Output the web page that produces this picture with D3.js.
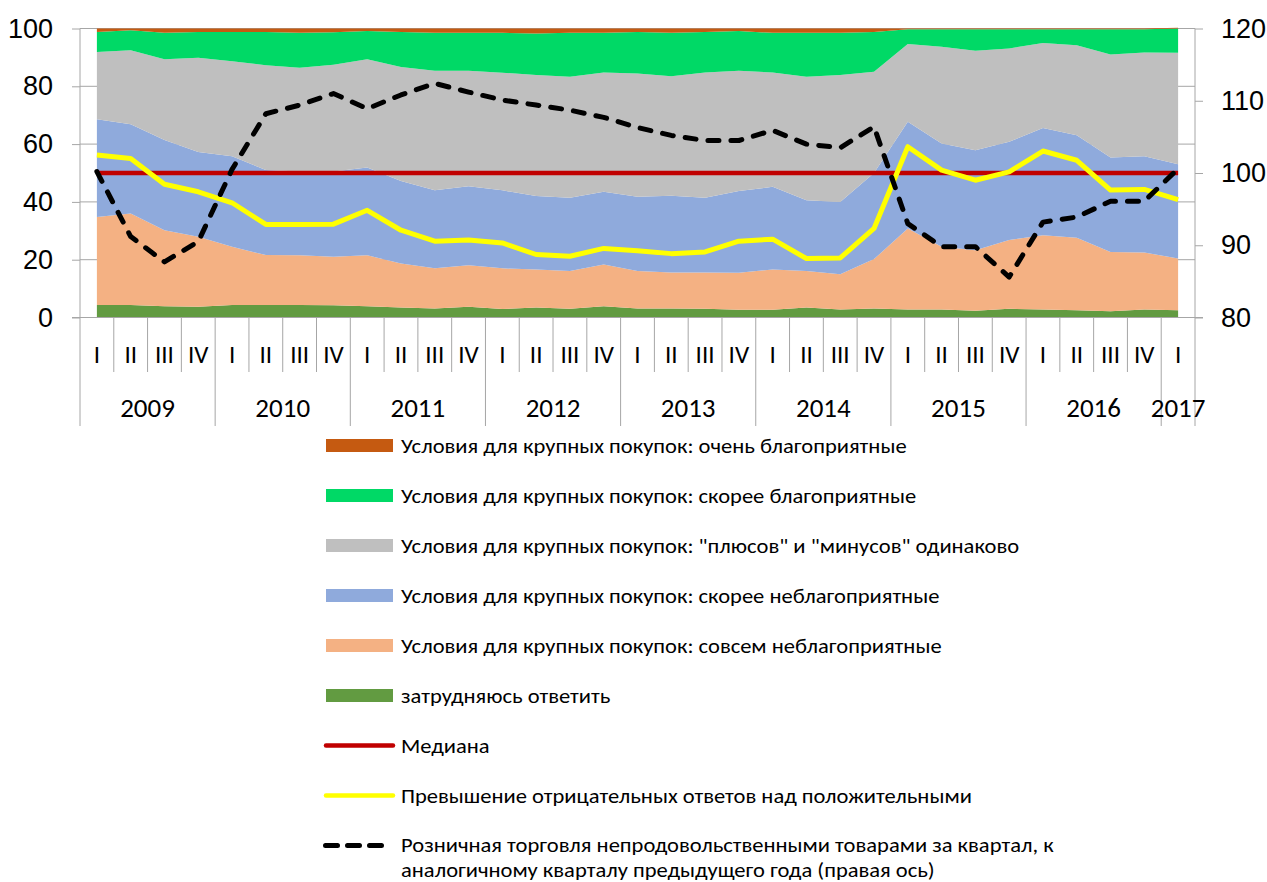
<!DOCTYPE html>
<html>
<head>
<meta charset="utf-8">
<script src="https://cdn.jsdelivr.net/npm/d3@7"></script>
<style>
  body { margin: 0; background: #fff; }
  svg { display: block; font-family: Carlito, Lato, "Open Sans", sans-serif; }
</style>
</head>
<body>
<svg id="chart" width="1267" height="882"></svg>
<script>
// quarters 2009 I .. 2017 I
const years = ["2009", "2010", "2011", "2012", "2013", "2014", "2015", "2016", "2017"];
const quarters = ["I", "II", "III", "IV"];

// survey shares, % (bottom to top of the stack)
const hardToSay   = [4.3, 4.3, 3.9, 3.7, 4.3, 4.3, 4.3, 4.2, 3.9, 3.5, 3.1, 3.7, 2.9, 3.5, 3.0, 3.9, 3.1, 3.1, 3.0, 2.7, 2.7, 3.5, 2.8, 3.1, 2.8, 2.8, 2.3, 3.0, 2.8, 2.5, 2.2, 2.8, 2.5];
const veryUnfav   = [30.5, 31.7, 26.3, 24.2, 20.2, 17.3, 17.2, 16.8, 17.6, 15.2, 13.9, 14.4, 14.1, 13.1, 13.1, 14.4, 13.0, 12.5, 12.6, 12.8, 13.9, 12.6, 12.2, 17.1, 28.0, 21.7, 21.0, 23.8, 25.7, 25.1, 20.5, 19.7, 17.9];
const ratherUnfav = [33.8, 30.9, 31.2, 29.4, 31.3, 29.4, 29.0, 29.5, 30.4, 28.5, 27.0, 27.3, 27.0, 25.4, 25.3, 25.2, 25.7, 26.5, 25.8, 28.3, 28.6, 24.5, 25.0, 29.8, 36.9, 35.7, 34.6, 34.0, 37.1, 35.5, 32.7, 33.3, 32.6];
const equalShare  = [23.3, 25.6, 28.0, 32.6, 32.9, 36.3, 35.9, 37.0, 37.5, 39.5, 41.4, 40.0, 40.7, 41.9, 41.9, 41.3, 42.6, 41.4, 43.4, 41.6, 39.6, 42.7, 43.9, 35.0, 26.9, 33.5, 34.4, 32.3, 29.4, 31.1, 35.6, 35.9, 38.6];
const ratherFav   = [6.9, 6.9, 9.1, 8.9, 10.1, 11.5, 12.1, 11.2, 9.7, 12.1, 13.1, 13.1, 13.8, 14.4, 15.2, 13.7, 14.4, 15.0, 14.0, 13.7, 13.7, 15.2, 14.6, 13.8, 5.1, 6.0, 7.4, 6.6, 4.7, 5.5, 8.7, 8.0, 8.4];
const veryFav     = [1.2, 0.6, 1.5, 1.2, 1.2, 1.2, 1.5, 1.3, 0.9, 1.2, 1.5, 1.5, 1.5, 1.7, 1.5, 1.5, 1.2, 1.5, 1.2, 0.9, 1.5, 1.5, 1.5, 1.2, 0.3, 0.3, 0.3, 0.3, 0.3, 0.3, 0.3, 0.3, 0.3];

// lines
const median  = [50, 50, 50, 50, 50, 50, 50, 50, 50, 50, 50, 50, 50, 50, 50, 50, 50, 50, 50, 50, 50, 50, 50, 50, 50, 50, 50, 50, 50, 50, 50, 50, 50];
const balance = [56.2, 55.0, 46.1, 43.5, 39.7, 32.2, 32.2, 32.3, 37.1, 30.2, 26.4, 26.8, 25.8, 21.8, 21.2, 23.9, 23.1, 22.1, 22.7, 26.4, 27.1, 20.4, 20.6, 30.8, 59.1, 51.0, 47.5, 50.4, 57.6, 54.4, 44.1, 44.3, 40.8];
const retail  = [100.2, 91.2, 87.7, 90.5, 100.5, 108.2, 109.4, 111.0, 108.9, 110.8, 112.4, 111.2, 110.1, 109.4, 108.7, 107.7, 106.3, 105.2, 104.5, 104.5, 105.9, 104.0, 103.5, 106.4, 93.0, 89.8, 89.8, 85.6, 93.2, 93.9, 96.1, 96.1, 100.6];

const leftTicks = [0, 20, 40, 60, 80, 100];
const rightTicks = [80, 90, 100, 110, 120];

const areaSeries = [
  { key: "hard",  label: "затрудняюсь ответить", values: hardToSay, color: "#629B41" },
  { key: "vunf",  label: "Условия для крупных покупок: совсем неблагоприятные", values: veryUnfav, color: "#F4B183" },
  { key: "runf",  label: "Условия для крупных покупок: скорее неблагоприятные", values: ratherUnfav, color: "#8FAADC" },
  { key: "eq",    label: "Условия для крупных покупок: \"плюсов\" и \"минусов\" одинаково", values: equalShare, color: "#BFBFBF" },
  { key: "rfav",  label: "Условия для крупных покупок: скорее благоприятные", values: ratherFav, color: "#00D966" },
  { key: "vfav",  label: "Условия для крупных покупок: очень благоприятные", values: veryFav, color: "#C55A11" }
];

const svg = d3.select("#chart");
const L = 80, R = 1195, T = 28.5, B = 317.5;
const AXIS = "#A6A6A6";

// category labels
const cats = [];
years.forEach(yr => {
  const qs = yr === "2017" ? ["I"] : quarters;
  qs.forEach(q => cats.push({ year: yr, q: q }));
});

const x = d3.scaleBand().domain(d3.range(cats.length)).range([L, R]);
const cx = i => x(i) + x.bandwidth() / 2;
const yL = d3.scaleLinear().domain([0, 100]).range([B, T]);
const yR = d3.scaleLinear().domain([80, 120]).range([B, T]);

// gridlines (behind areas)
svg.append("g").selectAll("line").data(leftTicks.filter(d => d > 0)).join("line")
  .attr("x1", L).attr("x2", R)
  .attr("y1", d => yL(d)).attr("y2", d => yL(d))
  .attr("stroke", AXIS).attr("stroke-width", 1);

// stacked areas
const table = cats.map((c, i) => {
  const row = { i: i };
  areaSeries.forEach(s => row[s.key] = s.values[i]);
  return row;
});
const stack = d3.stack().keys(areaSeries.map(s => s.key));
const layers = stack(table);
const area = d3.area()
  .x(d => cx(d.data.i))
  .y0(d => yL(d[0]))
  .y1(d => yL(d[1]));

svg.append("g").selectAll("path").data(layers).join("path")
  .attr("d", area)
  .attr("fill", (d, i) => areaSeries[i].color);

// left axis
const axL = svg.append("g").attr("transform", `translate(${L},0)`)
  .call(d3.axisLeft(yL).tickValues(leftTicks).tickSize(8).tickPadding(19).tickSizeOuter(0));
axL.select(".domain").remove();
axL.selectAll(".tick line").attr("stroke", AXIS);
axL.selectAll("text").attr("font-size", 27).attr("fill", "#000").attr("font-family", null);
svg.append("line").attr("x1", L).attr("x2", L).attr("y1", T).attr("y2", 426).attr("stroke", AXIS);

// right axis
const axR = svg.append("g").attr("transform", `translate(${R},0)`)
  .call(d3.axisRight(yR).tickValues(rightTicks).tickSize(8).tickPadding(18).tickSizeOuter(0));
axR.select(".domain").remove();
axR.selectAll(".tick line").attr("stroke", AXIS);
axR.selectAll("text").attr("font-size", 27).attr("fill", "#000").attr("font-family", null);
svg.append("line").attr("x1", R).attr("x2", R).attr("y1", T).attr("y2", 426).attr("stroke", AXIS);

// category axis: baseline, quarter and year separators
svg.append("line").attr("x1", L - 8).attr("x2", R + 8).attr("y1", B).attr("y2", B).attr("stroke", AXIS);
const step = x.step();
const bounds = d3.range(1, cats.length);
svg.append("g").selectAll("line").data(bounds).join("line")
  .attr("x1", i => L + i * step).attr("x2", i => L + i * step)
  .attr("y1", B).attr("y2", i => cats[i].q === "I" ? 426 : 372)
  .attr("stroke", AXIS);

svg.append("g").selectAll("text").data(cats).join("text")
  .attr("x", (d, i) => cx(i)).attr("y", 363)
  .attr("text-anchor", "middle").attr("font-size", 25)
  .text(d => d.q);

const yearPos = years.map(yr => {
  const idx = cats.map((c, i) => c.year === yr ? i : -1).filter(i => i >= 0);
  return { yr: yr, mid: (cx(idx[0]) + cx(idx[idx.length - 1])) / 2 };
});
svg.append("g").selectAll("text").data(yearPos).join("text")
  .attr("x", d => d.mid).attr("y", 417)
  .attr("text-anchor", "middle").attr("font-size", 27)
  .text(d => d.yr);

// lines
const lineL = d3.line().x((d, i) => cx(i)).y(d => yL(d));
const lineR = d3.line().x((d, i) => cx(i)).y(d => yR(d));

svg.append("path").attr("d", lineL(median))
  .attr("fill", "none").attr("stroke", "#C00000").attr("stroke-width", 4.5);
svg.append("path").attr("d", lineL(balance))
  .attr("fill", "none").attr("stroke", "#FFFF00").attr("stroke-width", 5)
  .attr("stroke-linejoin", "round");
svg.append("path").attr("d", lineR(retail))
  .attr("fill", "none").attr("stroke", "#000").attr("stroke-width", 5)
  .attr("stroke-dasharray", "11,12").attr("stroke-linecap", "round")
  .attr("stroke-linejoin", "round");

// legend
const legendItems = [
  ...areaSeries.slice().reverse().map(s => ({ type: "rect", color: s.color, lines: [s.label] })),
  { type: "line", color: "#C00000", lines: ["Медиана"] },
  { type: "line", color: "#FFFF00", lines: ["Превышение отрицательных ответов над положительными"] },
  { type: "dash", color: "#000", lines: ["Розничная торговля непродовольственными товарами за квартал, к",
                                        "аналогичному кварталу предыдущего года (правая ось)"] }
];

const lg = svg.append("g").attr("font-size", 20.5);
legendItems.forEach((d, k) => {
  const yc = 445.5 + k * 50;
  if (d.type === "rect") {
    lg.append("rect").attr("x", 326).attr("y", yc - 6.5).attr("width", 67).attr("height", 13).attr("fill", d.color);
  } else if (d.type === "line") {
    lg.append("line").attr("x1", 326).attr("x2", 393).attr("y1", yc).attr("y2", yc)
      .attr("stroke", d.color).attr("stroke-width", 4.5).attr("stroke-linecap", "round");
  } else {
    lg.append("line").attr("x1", 325.5).attr("x2", 383).attr("y1", yc).attr("y2", yc)
      .attr("stroke", d.color).attr("stroke-width", 5).attr("stroke-linecap", "round")
      .attr("stroke-dasharray", "12,10");
  }
  const base = d.lines.length > 1 ? yc + 6 : yc + 7.5;
  d.lines.forEach((t, j) => {
    lg.append("text")
      .attr("transform", `translate(401,${base + j * 25}) scale(1.1,1)`)
      .text(t);
  });
});
</script>
</body>
</html>
